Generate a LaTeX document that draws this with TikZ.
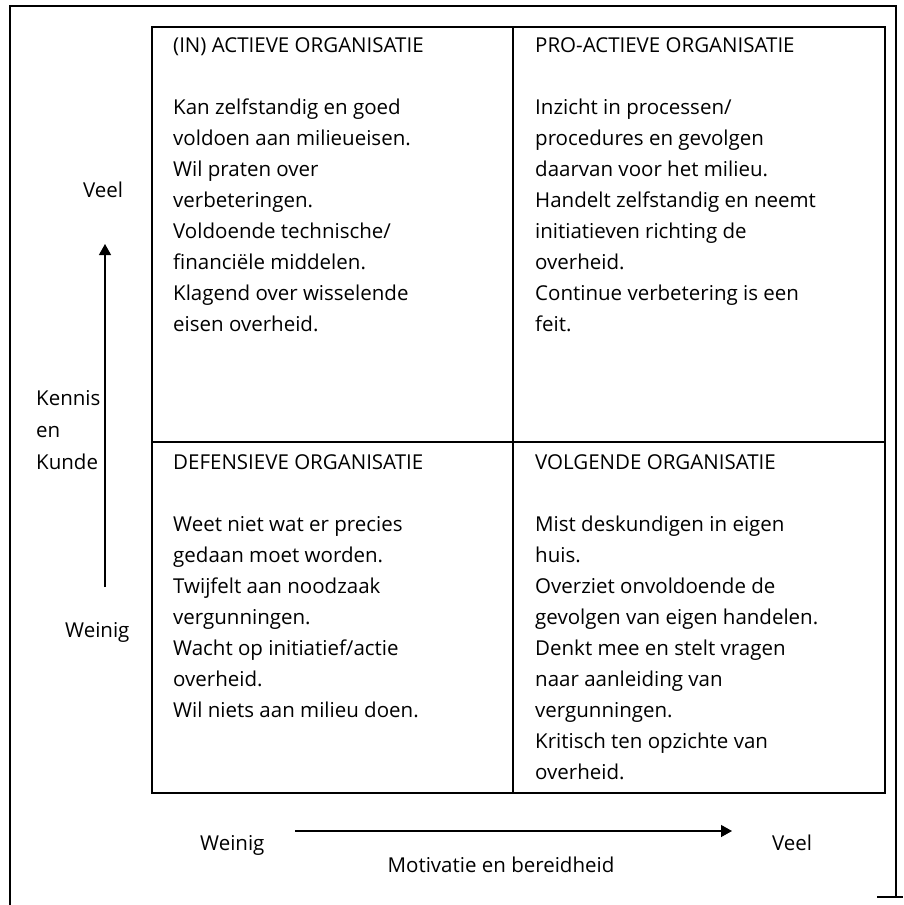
\documentclass[tikz,border=0pt]{standalone}
\usepackage{fontspec}
\setmainfont{Open Sans}
\usetikzlibrary{arrows.meta}
\newcommand{\txtfont}{\fontsize{20.5}{31}\selectfont}
\begin{document}
\begin{tikzpicture}[x=1pt,y=-1pt,
  frame/.style={line width=1.6pt},
  grid/.style={line width=1.6pt},
  axis/.style={line width=1.3pt,-{Triangle[width=12pt,length=11pt]}},
  lbl/.style={font=\txtfont,inner sep=0pt,anchor=base west},
  body/.style={font=\txtfont,inner sep=0pt,anchor=north west,align=left}]
\useasboundingbox (0,0) rectangle (903,905);
% outer frame
\coordinate (fa) at (10,905);
\coordinate (fb) at (10,6);
\coordinate (fc) at (896,6);
\coordinate (fd) at (896,896);
\coordinate (fe) at (877,897);
\coordinate (ff) at (903,897);
\draw[frame] (fa) -- (fb) -- (fc) -- (fd);
\draw[frame] (fe) -- (ff);
% quadrant grid
\coordinate (tl) at (152,27);
\coordinate (br) at (885,793);
\draw[grid] (tl) rectangle (br);
\draw[grid] (513,27) -- (513,793);
\draw[grid] (152,442) -- (885,442);
% quadrant titles
\node[lbl] (h1) at (173,52) {(IN) ACTIEVE ORGANISATIE};
\node[lbl] (h2) at (535,52) {PRO-ACTIEVE ORGANISATIE};
\node[lbl] (h3) at (173,469) {DEFENSIEVE ORGANISATIE};
\node[lbl] (h4) at (535,469) {VOLGENDE ORGANISATIE};
% quadrant texts (first baseline 62pt below the title)
\node[body] (b1) at (173,92.3) {\strut Kan zelfstandig en goed\\voldoen aan milieueisen.\\Wil praten over\\verbeteringen.\\Voldoende technische/\\financiële middelen.\\Klagend over wisselende\\eisen overheid.};
\node[body] (b2) at (535,92.3) {\strut Inzicht in processen/\\procedures en gevolgen\\daarvan voor het milieu.\\Handelt zelfstandig en neemt\\initiatieven richting de\\overheid.\\Continue verbetering is een\\feit.};
\node[body] (b3) at (173,509.3) {\strut Weet niet wat er precies\\gedaan moet worden.\\Twijfelt aan noodzaak\\vergunningen.\\Wacht op initiatief/actie\\overheid.\\Wil niets aan milieu doen.};
\node[body] (b4) at (535,509.3) {\strut Mist deskundigen in eigen\\huis.\\Overziet onvoldoende de\\gevolgen van eigen handelen.\\Denkt mee en stelt vragen\\naar aanleiding van\\vergunningen.\\Kritisch ten opzichte van\\overheid.};
% vertical axis
\node[lbl] (vveel) at (83,197) {Veel};
\node[lbl] (k1) at (36,405) {Kennis};
\node[lbl] (k2) at (36,437) {en};
\node[lbl] (k3) at (36,469) {Kunde};
\node[lbl] (vwein) at (65,637) {Weinig};
\coordinate (va) at (105,587);
\coordinate (vb) at (105,244);
\draw[axis] (va) -- (vb);
% horizontal axis
\node[lbl] (hwein) at (200,850) {Weinig};
\node[lbl] (hveel) at (772,850) {Veel};
\node[font=\txtfont,inner sep=0pt,anchor=base] (mot) at (501,872) {Motivatie en bereidheid};
\coordinate (ha) at (295,831);
\coordinate (hb) at (732,831);
\draw[axis] (ha) -- (hb);
\end{tikzpicture}
\end{document}
